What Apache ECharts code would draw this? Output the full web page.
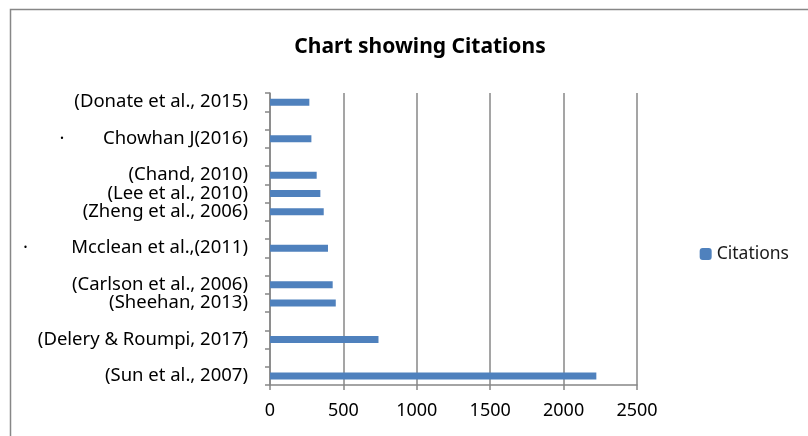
<!DOCTYPE html>
<html>
<head>
<meta charset="utf-8">
<script src="https://cdn.jsdelivr.net/npm/echarts@6/dist/echarts.min.js"></script>
<style>
  html, body { margin: 0; padding: 0; background: #fff; }
  #citeChart { width: 808px; height: 436px; }
</style>
</head>
<body>
<div id="citeChart"></div>
<script>
// categories bottom-up, empty slots kept as in the original chart
var categories = [
  '(Sun et al., 2007)',
  '',
  '(Delery & Roumpi, 2017)\u0301',
  '',
  '(Sheehan, 2013)',
  '(Carlson et al., 2006)',
  '',
  '\u00b7         Mcclean et al.,(2011)',
  '',
  '(Zheng et al., 2006)',
  '(Lee et al., 2010)',
  '(Chand, 2010)',
  '',
  '\u00b7        Chowhan J(2016)',
  '',
  '(Donate et al., 2015)'
];
var citations = [2223, null, 739, null, 448, 427, null, 395, null, 366, 343, 318, null, 282, null, 268];
var xTicks = [0, 500, 1000, 1500, 2000, 2500];

var chart = echarts.init(document.getElementById('citeChart'));
var gray = '#878787';
var option = {
  animation: false,
  textStyle: { fontFamily: 'Noto Sans, sans-serif' },
  title: {
    text: 'Chart showing Citations',
    left: 415,
    textAlign: 'center',
    top: 32,
    textStyle: { fontSize: 21, fontWeight: 'bold', color: '#000' }
  },
  legend: {
    right: 14,
    top: 240,
    itemWidth: 12,
    itemHeight: 12,
    itemGap: 5,
    itemStyle: { borderWidth: 0 },
    textStyle: { fontSize: 17.5, color: '#1a1a1a' },
    data: ['Citations']
  },
  graphic: [{
    type: 'rect',
    shape: { x: 10.5, y: 9.5, width: 900, height: 600 },
    style: { fill: 'none', stroke: gray, lineWidth: 1.5 },
    silent: true
  }],
  grid: { left: 270, right: 171, top: 93, bottom: 51, containLabel: false },
  xAxis: {
    type: 'value',
    min: xTicks[0],
    max: xTicks[xTicks.length - 1],
    interval: 500,
    axisLine: { show: true, lineStyle: { color: gray, width: 1.5 } },
    axisTick: { show: true, length: 5, lineStyle: { color: gray, width: 1.5 } },
    axisLabel: { fontSize: 18, color: '#000', margin: 17, formatter: function (v) { return String(v); } },
    splitLine: { show: true, lineStyle: { color: gray, width: 1.5 } }
  },
  yAxis: {
    type: 'category',
    data: categories,
    axisLine: { show: true, lineStyle: { color: gray, width: 1.5 } },
    axisTick: { show: true, length: 5, lineStyle: { color: gray, width: 1.5 } },
    axisLabel: { fontSize: 18.5, color: '#000', margin: 22, interval: 0 }
  },
  series: [{
    name: 'Citations',
    type: 'bar',
    data: citations,
    barWidth: 7,
    itemStyle: { color: '#4f81bd' }
  }]
};
chart.setOption(option);
</script>
</body>
</html>
